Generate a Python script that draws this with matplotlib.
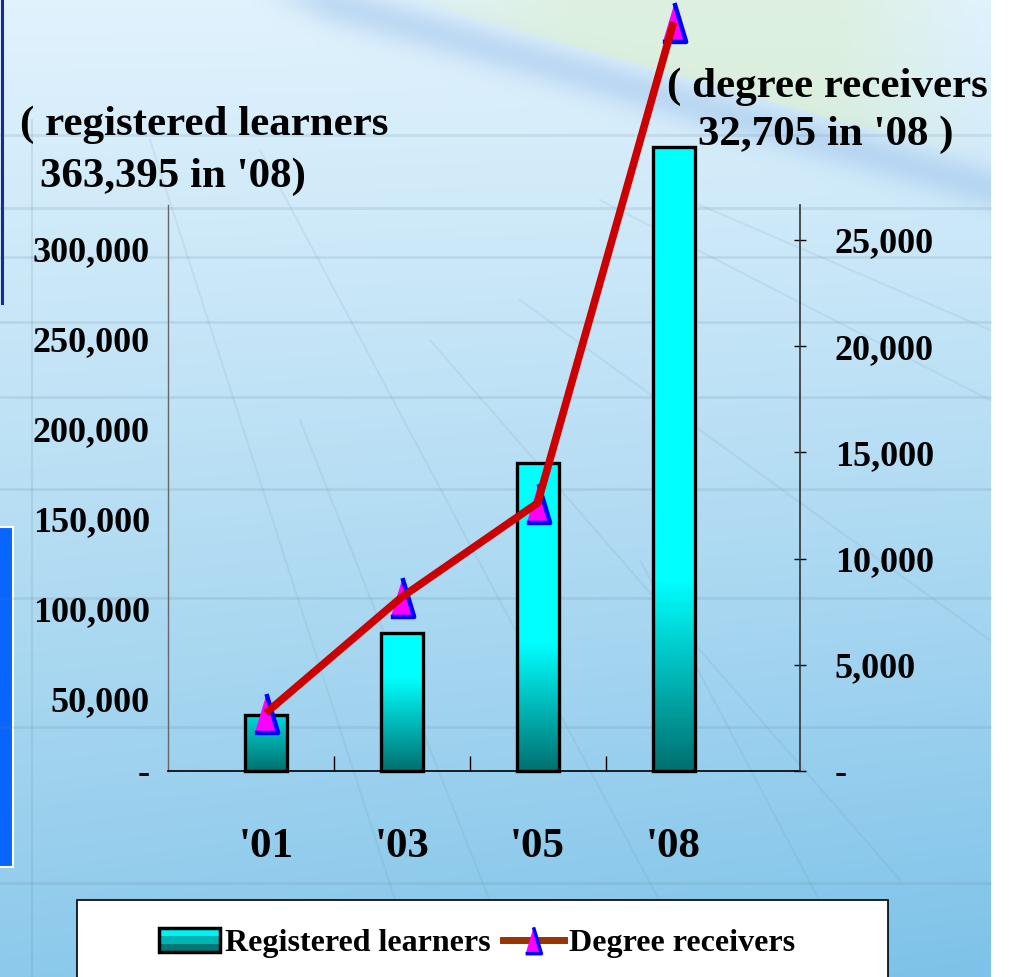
import numpy as np
import matplotlib
matplotlib.use("Agg")
import matplotlib.pyplot as plt
import matplotlib.transforms as mtransforms
from matplotlib.patches import Rectangle
from matplotlib.lines import Line2D
from matplotlib.legend_handler import HandlerBase

# ---- data ----
years = ["'01", "'03", "'05", "'08"]
learners = [31100, 76700, 171100, 346700]   # registered learners (left axis)
degrees = [2730, 8190, 12620, 35260]        # degree receivers (right axis)

left_ticks = [0, 50000, 100000, 150000, 200000, 250000, 300000]
left_labels = ["-", "50,000", "100,000", "150,000", "200,000", "250,000", "300,000"]
right_ticks = [0, 5000, 10000, 15000, 20000, 25000]
right_labels = ["-", "5,000", "10,000", "15,000", "20,000", "25,000"]

W, H = 1010, 977
plt.rcParams["font.family"] = ["Liberation Serif", "DejaVu Serif"]
plt.rcParams["font.weight"] = "bold"

fig = plt.figure(figsize=(W / 100, H / 100), dpi=100)

# ---- slide-like background ----
yy, xx = np.mgrid[0:H, 0:W].astype(float)
t = (yy / H)[..., None]
top = np.array([0.88, 0.95, 0.99])
bot = np.array([0.55, 0.79, 0.92])
img = top + (bot - top) * t ** 1.1
img -= 0.06 * ((xx / W) * (yy / H))[..., None] * np.array([1.0, 0.5, 0.1])
# diagonal band + green tint at the top
d = yy - (xx - 320) * 0.28
band = (np.exp(-(d / 22) ** 2) * np.clip((xx - 250) / 80, 0, 1))[..., None]
img = img * (1 - 0.5 * band) + np.array([0.62, 0.76, 0.92]) * 0.5 * band
green = ((d < -25) * np.clip((xx - 380) / 200, 0, 1) * np.clip((980 - xx) / 150, 0, 1))[..., None]
img = img * (1 - 0.6 * green) + np.array([0.86, 0.94, 0.80]) * 0.6 * green
img[:, 991:] = 1.0
img = np.clip(img, 0, 1)

ax_bg = fig.add_axes([0, 0, 1, 1], zorder=-1)
ax_bg.imshow(img, extent=(0, W, H, 0), aspect="auto")
ax_bg.set_xlim(0, W)
ax_bg.set_ylim(H, 0)
ax_bg.axis("off")
for y in [135, 208, 257, 322, 397, 489, 598, 727, 883]:
    ax_bg.plot([0, 990], [y, y], color="#5d7f95", lw=2, alpha=0.15)
ax_bg.plot([32, 32], [120, H], color="#5d7f95", lw=1.5, alpha=0.15)
for (x0, y0, x1, y1) in [(150, 140, 420, 977), (260, 150, 700, 977), (430, 340, 900, 880),
                         (520, 300, 990, 640), (600, 200, 990, 400), (700, 205, 990, 330),
                         (300, 420, 520, 977), (640, 560, 860, 977)]:
    ax_bg.plot([x0, x1], [y0, y1], color="#5d7f95", lw=1.5, alpha=0.1)
ax_bg.plot([1.5, 1.5], [0, 303], color="#1c2a8c", lw=2.2)
ax_bg.add_patch(Rectangle((-3, 527), 16, 340, fc="#0866ff", ec="white", lw=1.5))

# ---- chart ----
ax = fig.add_axes([168 / W, 1 - 771 / H, 632 / W, 566 / H])
ax.set_facecolor("none")
x = np.arange(len(years))
bars = ax.bar(x, learners, width=0.31, facecolor="none", edgecolor="black",
              linewidth=2.4, clip_on=False, zorder=3)
cyan = np.array([0.0, 1.0, 1.0])
teal = np.array([0.0, 0.44, 0.44])
for b, v in zip(bars, learners):
    g = 0.2 * v + 36500
    ys = np.linspace(0, v, 200)
    f = np.clip(ys / g, 0, 1)[:, None]
    col = teal + (cyan - teal) * f
    ax.imshow(col[:, None, :], extent=(b.get_x(), b.get_x() + b.get_width(), 0, v),
              origin="lower", aspect="auto", zorder=2, clip_on=False)

ax.set_xlim(-0.72, 3.93)
ax.set_ylim(0, 314400)
for s in ["top", "right"]:
    ax.spines[s].set_visible(False)
ax.spines["left"].set_color("#666666")
ax.spines["left"].set_linewidth(1)
ax.spines["bottom"].set_linewidth(1.2)

ax.set_xticks(x, years)
ax.set_xticks([0.5, 1.5, 2.5], minor=True)
ax.tick_params(axis="x", which="major", length=0, pad=41, labelsize=31)
ax.tick_params(axis="x", which="minor", direction="in", length=11, width=1)
ax.set_yticks(left_ticks, left_labels)
ax.tick_params(axis="y", length=0, pad=13, labelsize=26)
off = mtransforms.ScaledTranslation(0, -18 / 100, fig.dpi_scale_trans)
for lbl in ax.get_yticklabels()[1:]:
    lbl.set_transform(lbl.get_transform() + off)

ax2 = ax.twinx()
ax2.set_ylim(0, 26650)
for s in ["top", "left", "bottom"]:
    ax2.spines[s].set_visible(False)
ax2.spines["right"].set_color("#333333")
ax2.spines["right"].set_linewidth(1.2)
ax2.set_yticks(right_ticks, right_labels)
ax2.tick_params(axis="y", direction="inout", length=8, width=1, pad=21, labelsize=26)

tri = [(-0.3, -0.5), (0.3, -0.5), (0.0, 0.5)]
ax2.plot(x, degrees, linestyle="none", marker=tri, markersize=28, markerfacecolor="#ff00ff",
         markeredgecolor="#0000ff", markeredgewidth=3.2, clip_on=False, zorder=4)
ax2.plot(x, degrees, color="#cc0000", lw=5.5, clip_on=False, zorder=5, solid_capstyle="butt")

# ---- annotations ----
fig.text(20 / W, 1 - 135 / H, "( registered learners", fontsize=31, va="baseline")
fig.text(40 / W, 1 - 187 / H, "363,395 in '08)", fontsize=31, va="baseline")
fig.text(667 / W, 1 - 97 / H, "( degree receivers", fontsize=31, va="baseline")
fig.text(698 / W, 1 - 145 / H, "32,705 in '08 )", fontsize=31, va="baseline")


# ---- legend ----
class GradHandler(HandlerBase):
    def create_artists(self, legend, orig, xd, yd, w, h, fs, trans):
        arts = []
        for i, c in enumerate(["#00f2f2", "#00b4b4", "#007878"]):
            arts.append(Rectangle((-xd, -yd + h * (2 - i) / 3), w, h / 3, fc=c, ec="none",
                                  transform=trans))
        arts.append(Rectangle((-xd, -yd), w, h, fc="none", ec="black", lw=2.5, transform=trans))
        return arts


fig.patches.append(Rectangle((77 / W, -0.01), 811 / W, (977 - 900) / H + 0.01,
                             transform=fig.transFigure, fc="white", ec="black", lw=1.2, zorder=1))
bar_handle = Rectangle((0, 0), 1, 1)
line_handle = Line2D([], [], color="#993300", lw=5, marker=tri, markersize=19,
                     markerfacecolor="#ff00ff", markeredgecolor="#0000ff", markeredgewidth=2.5)
fig.legend([bar_handle, line_handle], ["Registered learners", "Degree receivers"],
           handler_map={bar_handle: GradHandler()}, loc="center",
           bbox_to_anchor=(477 / W, 1 - 943 / H), ncol=2, frameon=False, fontsize=23,
           handlelength=1.9, handleheight=0.8, handletextpad=0.15, columnspacing=0.4)

fig.savefig("out.png", dpi=100)
